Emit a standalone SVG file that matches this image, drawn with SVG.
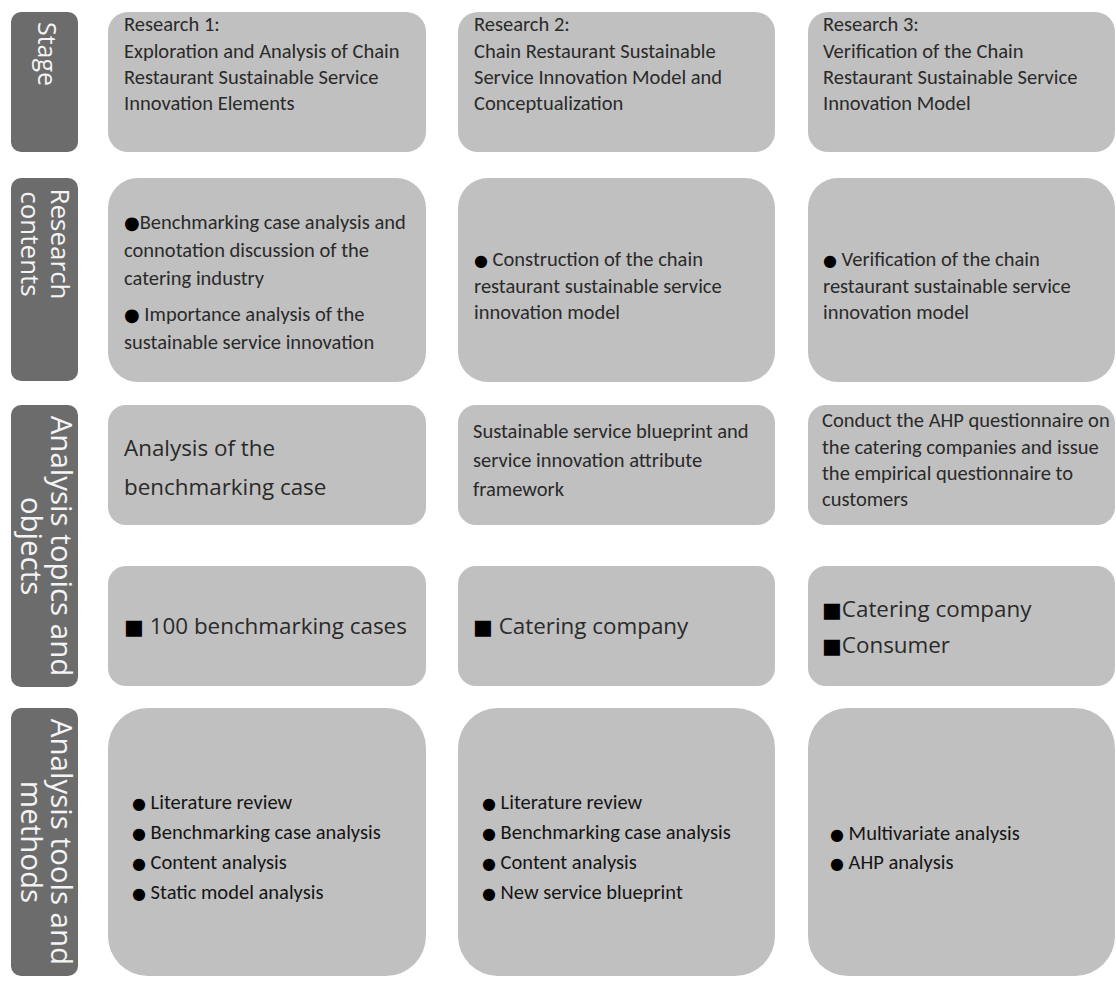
<svg xmlns="http://www.w3.org/2000/svg" width="1116" height="983" viewBox="0 0 1116 983">
  <style>
    .cell { fill: #c0c0c0; }
    .head { fill: #6c6c6c; }
    .t { font-family: Carlito, Lato, "Liberation Sans", sans-serif; font-size: 20.5px; fill: #2a2a2a; }
    .tl { font-family: Carlito, Lato, "Liberation Sans", sans-serif; font-size: 20.5px; fill: #151515; }
    .big { font-family: "Open Sans", "Noto Sans", sans-serif; font-size: 22.4px; fill: #2a2a2a; }
    .lbl { font-family: "Open Sans", "Noto Sans", sans-serif; fill: #f4f4f4; text-anchor: middle; }
    .sym { font-family: "DejaVu Sans", sans-serif; fill: #000000; }
  </style>
  <rect width="1116" height="983" fill="#ffffff"/>

  <!-- row headings (vertical text, block anchored near the top) -->
  <g id="head-stage">
    <rect class="head" x="11" y="12" width="67" height="140" rx="10"/>
    <text class="lbl" font-size="25" transform="translate(38,54) rotate(90)">Stage</text>
  </g>
  <g id="head-contents">
    <rect class="head" x="11" y="178" width="67" height="203" rx="10"/>
    <text class="lbl" font-size="26" transform="translate(51,244) rotate(90)">Research</text>
    <text class="lbl" font-size="26" transform="translate(21,244) rotate(90)">contents</text>
  </g>
  <g id="head-topics">
    <rect class="head" x="11" y="405" width="67" height="282" rx="10"/>
    <text class="lbl" font-size="29.5" transform="translate(51,546) rotate(90)">Analysis topics and</text>
    <text class="lbl" font-size="29.5" transform="translate(21,546) rotate(90)">objects</text>
  </g>
  <g id="head-tools">
    <rect class="head" x="11" y="708" width="67" height="268" rx="10"/>
    <text class="lbl" font-size="29.5" transform="translate(51,842) rotate(90)">Analysis tools and</text>
    <text class="lbl" font-size="29.5" transform="translate(21,842) rotate(90)">methods</text>
  </g>

  <!-- stage row -->
  <g id="stage-1">
    <rect class="cell" x="108" y="12" width="318" height="140" rx="20"/>
    <text class="t" x="124" y="31">Research 1:</text>
    <text class="t" x="124" y="58">Exploration and Analysis of Chain</text>
    <text class="t" x="124" y="84">Restaurant Sustainable Service</text>
    <text class="t" x="124" y="110">Innovation Elements</text>
  </g>
  <g id="stage-2">
    <rect class="cell" x="458" y="12" width="317" height="140" rx="20"/>
    <text class="t" x="474" y="31">Research 2:</text>
    <text class="t" x="474" y="58">Chain Restaurant Sustainable</text>
    <text class="t" x="474" y="84">Service Innovation Model and</text>
    <text class="t" x="474" y="110">Conceptualization</text>
  </g>
  <g id="stage-3">
    <rect class="cell" x="808" y="12" width="307" height="140" rx="20"/>
    <text class="t" x="823" y="31">Research 3:</text>
    <text class="t" x="823" y="58">Verification of the Chain</text>
    <text class="t" x="823" y="84">Restaurant Sustainable Service</text>
    <text class="t" x="823" y="110">Innovation Model</text>
  </g>

  <!-- research contents row -->
  <g id="contents-1">
    <rect class="cell" x="108" y="178" width="318" height="204" rx="30"/>
    <text class="t" x="124" y="229"><tspan class="sym" font-size="18">●</tspan>Benchmarking case analysis and</text>
    <text class="t" x="124" y="257">connotation discussion of the</text>
    <text class="t" x="124" y="285">catering industry</text>
    <text class="t" x="124" y="321"><tspan class="sym" font-size="18">●</tspan> Importance analysis of the</text>
    <text class="t" x="124" y="349">sustainable service innovation</text>
  </g>
  <g id="contents-2">
    <rect class="cell" x="458" y="178" width="317" height="204" rx="30"/>
    <text class="t" x="474" y="266"><tspan class="sym" font-size="16">●</tspan> Construction of the chain</text>
    <text class="t" x="474" y="293">restaurant sustainable service</text>
    <text class="t" x="474" y="319">innovation model</text>
  </g>
  <g id="contents-3">
    <rect class="cell" x="808" y="178" width="307" height="204" rx="30"/>
    <text class="t" x="823" y="266"><tspan class="sym" font-size="16">●</tspan> Verification of the chain</text>
    <text class="t" x="823" y="293">restaurant sustainable service</text>
    <text class="t" x="823" y="319">innovation model</text>
  </g>

  <!-- analysis topics row -->
  <g id="topics-1">
    <rect class="cell" x="108" y="405" width="318" height="120" rx="18"/>
    <text class="big" x="124" y="456">Analysis of the</text>
    <text class="big" x="124" y="495">benchmarking case</text>
  </g>
  <g id="topics-2">
    <rect class="cell" x="458" y="405" width="317" height="120" rx="18"/>
    <text class="t" x="473" y="438">Sustainable service blueprint and</text>
    <text class="t" x="473" y="467">service innovation attribute</text>
    <text class="t" x="473" y="496">framework</text>
  </g>
  <g id="topics-3">
    <rect class="cell" x="808" y="405" width="307" height="120" rx="18"/>
    <text class="t" x="822" y="427">Conduct the AHP questionnaire on</text>
    <text class="t" x="822" y="454">the catering companies and issue</text>
    <text class="t" x="822" y="480">the empirical questionnaire to</text>
    <text class="t" x="822" y="506">customers</text>
  </g>

  <!-- analysis objects row -->
  <g id="objects-1">
    <rect class="cell" x="108" y="566" width="318" height="120" rx="18"/>
    <text class="big" x="124" y="634"><tspan class="sym" font-size="21">■</tspan> 100 benchmarking cases</text>
  </g>
  <g id="objects-2">
    <rect class="cell" x="458" y="566" width="317" height="120" rx="18"/>
    <text class="big" x="473" y="634"><tspan class="sym" font-size="21">■</tspan> Catering company</text>
  </g>
  <g id="objects-3">
    <rect class="cell" x="808" y="566" width="307" height="120" rx="18"/>
    <text class="big" x="822" y="617"><tspan class="sym" font-size="21">■</tspan>Catering company</text>
    <text class="big" x="822" y="653"><tspan class="sym" font-size="21">■</tspan>Consumer</text>
  </g>

  <!-- analysis tools row -->
  <g id="tools-1">
    <rect class="cell" x="108" y="708" width="318" height="268" rx="40"/>
    <text class="tl" x="132" y="809"><tspan class="sym" font-size="16">●</tspan> Literature review</text>
    <text class="tl" x="132" y="839"><tspan class="sym" font-size="16">●</tspan> Benchmarking case analysis</text>
    <text class="tl" x="132" y="869"><tspan class="sym" font-size="16">●</tspan> Content analysis</text>
    <text class="tl" x="132" y="899"><tspan class="sym" font-size="16">●</tspan> Static model analysis</text>
  </g>
  <g id="tools-2">
    <rect class="cell" x="458" y="708" width="317" height="268" rx="40"/>
    <text class="tl" x="482" y="809"><tspan class="sym" font-size="16">●</tspan> Literature review</text>
    <text class="tl" x="482" y="839"><tspan class="sym" font-size="16">●</tspan> Benchmarking case analysis</text>
    <text class="tl" x="482" y="869"><tspan class="sym" font-size="16">●</tspan> Content analysis</text>
    <text class="tl" x="482" y="899"><tspan class="sym" font-size="16">●</tspan> New service blueprint</text>
  </g>
  <g id="tools-3">
    <rect class="cell" x="808" y="708" width="307" height="268" rx="40"/>
    <text class="tl" x="830" y="840"><tspan class="sym" font-size="16">●</tspan> Multivariate analysis</text>
    <text class="tl" x="830" y="869"><tspan class="sym" font-size="16">●</tspan> AHP analysis</text>
  </g>
</svg>
